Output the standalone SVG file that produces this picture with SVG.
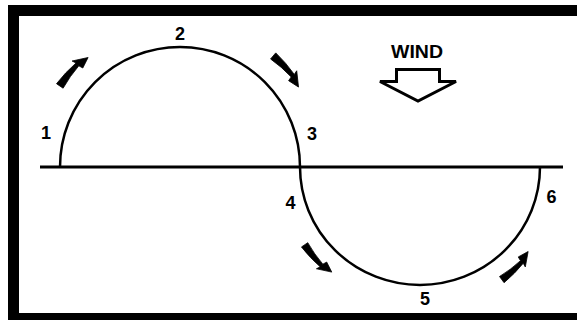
<svg xmlns="http://www.w3.org/2000/svg" width="577" height="320" viewBox="0 0 577 320">
  <style>
    .lbl { font-family: "Liberation Sans", Arial, sans-serif; font-weight: bold; font-size: 18px; fill: #000; text-anchor: middle; }
    .line { fill: none; stroke: #000; }
    .flow { fill: #000; stroke: #000; stroke-width: 0.8; stroke-linejoin: round; }
  </style>
  <defs>
    <path id="curvedArrow" d="M -123.5 -83.3 A 147 147 0 0 1 -104.0 -104.0 L -107.9 -106.0 L -91.9 -109.5 L -97.2 -99.0 L -101.2 -101.2 A 141 141 0 0 0 -116.9 -78.8 Z"/>
  </defs>
  <rect width="577" height="320" fill="#fff"/>
  <g id="frame">
    <rect x="13.5" y="10.5" width="600" height="308" fill="none" stroke="#000" stroke-width="11"/>
  </g>
  <g id="connectors">
    <line class="line" x1="40" y1="167" x2="563" y2="167" stroke-width="3.2"/>
    <path class="line" d="M 60 167 A 120 120 0 0 1 300 167" stroke-width="2.5"/>
    <path class="line" d="M 300 167 A 120 118 0 0 0 540 167" stroke-width="2.5"/>
  </g>
  <g id="flow-arrows">
    <use href="#curvedArrow" class="flow" transform="translate(180,167)"/>
    <use href="#curvedArrow" class="flow" transform="translate(180,167) rotate(96)"/>
    <use href="#curvedArrow" class="flow" transform="translate(420,167) scale(0.96,-0.96)"/>
    <use href="#curvedArrow" class="flow" transform="translate(420,167) rotate(-92) scale(0.96,-0.96)"/>
  </g>
  <g id="point-1"><text class="lbl" x="46" y="139">1</text></g>
  <g id="point-2"><text class="lbl" x="180" y="40">2</text></g>
  <g id="point-3"><text class="lbl" x="312" y="140">3</text></g>
  <g id="point-4"><text class="lbl" x="290.5" y="209">4</text></g>
  <g id="point-5"><text class="lbl" x="425" y="305">5</text></g>
  <g id="point-6"><text class="lbl" x="551.5" y="203">6</text></g>
  <g id="wind">
    <text class="lbl" x="417" y="58" font-size="21.5" textLength="52" lengthAdjust="spacingAndGlyphs">WIND</text>
    <path d="M 396.5 69.5 L 439.5 69.5 L 439.5 81.5 L 456 81.5 L 418 101 L 380 81.5 L 396.5 81.5 Z" fill="none" stroke="#000" stroke-width="3" stroke-linejoin="miter"/>
  </g>
</svg>
